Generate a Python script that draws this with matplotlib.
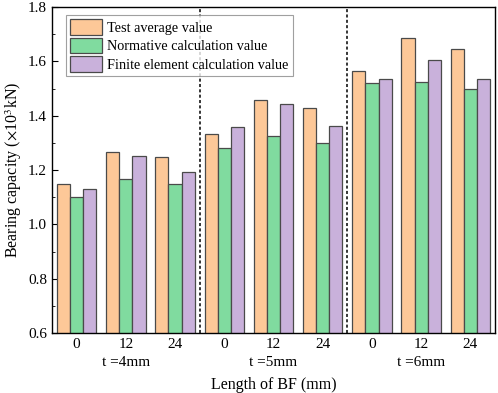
import matplotlib
matplotlib.use("Agg")
import matplotlib.pyplot as plt
import numpy as np
from matplotlib.ticker import MultipleLocator

plt.rcParams['font.family'] = ['Liberation Serif', 'DejaVu Serif']
plt.rcParams['mathtext.fontset'] = 'stix'

lengths = ['0', '12', '24', '0', '12', '24', '0', '12', '24']
groups = ['t =4mm', 't =5mm', 't =6mm']
series_names = ['Test average value', 'Normative calculation value', 'Finite element calculation value']
test_avg = [1.150, 1.267, 1.247, 1.333, 1.459, 1.429, 1.564, 1.686, 1.645]
normative = [1.102, 1.166, 1.150, 1.280, 1.324, 1.298, 1.521, 1.525, 1.498]
fem = [1.131, 1.250, 1.191, 1.357, 1.443, 1.362, 1.536, 1.605, 1.535]
colors = ['#FDC898', '#80DB9F', '#C9B1DB']

fig = plt.figure(figsize=(4.98, 3.93), dpi=100)
ax = fig.add_axes([0.1044, 0.1527, 0.8896, 0.8293])

x = np.arange(len(lengths))
w = 0.267
for i, (vals, name, c) in enumerate(zip([test_avg, normative, fem], series_names, colors)):
    ax.bar(x + (i - 1) * w, vals, w, color=c, edgecolor='#4a4a4a', linewidth=0.9, label=name, zorder=2)

ax.set_xlim(-0.5, 8.5)
ax.set_ylim(0.6, 1.8)
for sep in [2.5, 5.5]:
    ax.axvline(sep, color='black', linestyle=(0, (2, 1.5)), linewidth=1.1, zorder=3)

ax.set_xticks(x)
ax.set_xticklabels(lengths, fontsize=11)
ax.yaxis.set_major_locator(MultipleLocator(0.2))
ax.yaxis.set_minor_locator(MultipleLocator(0.1))
ax.tick_params(axis='both', which='both', direction='in', labelsize=11)
ax.tick_params(axis='y', which='major', length=4)
ax.tick_params(axis='y', which='minor', length=2.5)
ax.tick_params(axis='x', which='major', length=4)
ax.set_yticklabels([f'{v:.1f}' for v in ax.get_yticks()])

for j, g in enumerate(groups):
    ax.text(3 * j + 1, -0.092, g, transform=ax.get_xaxis_transform(), ha='center', va='center', fontsize=11)

ax.set_xlabel('Length of BF (mm)', fontsize=11.5, labelpad=19)
ax.set_ylabel(r'Bearing capacity ($\times$10$^3$kN)', fontsize=11.5, labelpad=3)

for s in ax.spines.values():
    s.set_linewidth(1.0)

leg = ax.legend(loc='upper left', bbox_to_anchor=(0.025, 0.985), fontsize=10.3, frameon=True, fancybox=False,
                edgecolor='#888888', handlelength=2.2, handleheight=1.3, labelspacing=0.2,
                borderpad=0.3, handletextpad=0.4, borderaxespad=0.2)
leg.get_frame().set_linewidth(0.8)

fig.savefig('out.png', dpi=100)
